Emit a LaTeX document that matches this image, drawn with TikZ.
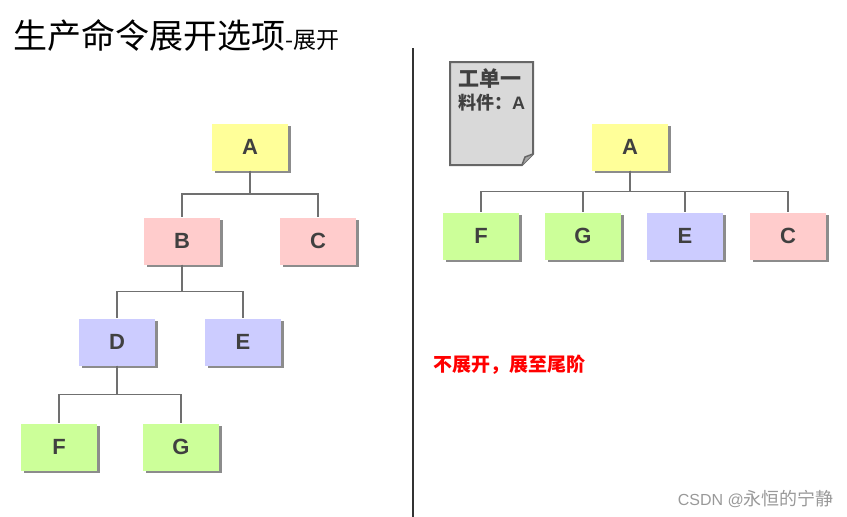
\documentclass[tikz,border=0pt]{standalone}
\usepackage{fontspec}
\setmainfont{Liberation Sans}
\newfontfamily\cjk{Noto Sans CJK SC}
\usetikzlibrary{shadows}
\usetikzlibrary{calc}
\definecolor{partyellow}{HTML}{FFFF99}
\definecolor{partpink}{HTML}{FFCCCC}
\definecolor{partblue}{HTML}{CCCCFF}
\definecolor{partgreen}{HTML}{CCFF99}
\definecolor{parttext}{HTML}{404040}
\definecolor{linkgray}{HTML}{707070}
\tikzset{
	part/.style={minimum width=76pt, minimum height=47pt, inner sep=0pt,
		font=\bfseries\fontsize{22}{22}\selectfont, text=parttext,
		drop shadow={shadow xshift=2.5pt, shadow yshift=-2.5pt, fill=black!45, opacity=1}},
	link/.style={draw=linkgray, line width=1.5pt},
	notetext/.style={anchor=west, inner sep=0pt, text=parttext, font=\cjk\bfseries}
}

\begin{document}
\begin{tikzpicture}[x=1pt, y=-1pt]
	\useasboundingbox (0,0) rectangle (847,517);
	\node[anchor=base west, inner sep=0pt, font=\cjk\fontsize{34}{34}\selectfont] (title) at (13,48) {生产命令展开选项\fontsize{23}{23}\selectfont-展开};
	\draw[line width=1.5pt, black!80] (413,48) -- (413,517);

	\node[part, fill=partyellow] (lA) at (250,147) {A};
	\node[part, fill=partpink] (lB) at (182,241) {B};
	\node[part, fill=partpink] (lC) at (318,241) {C};
	\node[part, fill=partblue] (lD) at (117,342) {D};
	\node[part, fill=partblue] (lE) at (243,342) {E};
	\node[part, fill=partgreen] (lF) at (59,447) {F};
	\node[part, fill=partgreen] (lG) at (181,447) {G};
	\draw[link] (lA.south) |- ($(lA.south)!.5!(lB.north)$) -| (lB.north);
	\draw[link] (lA.south) |- ($(lA.south)!.5!(lC.north)$) -| (lC.north);
	\draw[link] (lB.south) |- ($(lB.south)!.5!(lD.north)$) -| (lD.north);
	\draw[link] (lB.south) |- ($(lB.south)!.5!(lE.north)$) -| (lE.north);
	\draw[link] (lD.south) |- ($(lD.south)!.5!(lF.north)$) -| (lF.north);
	\draw[link] (lD.south) |- ($(lD.south)!.5!(lG.north)$) -| (lG.north);

	\draw[line width=2pt, draw=black!60, fill=black!15] (450,62) -- (533,62) -- (533,154) -- (522,165) -- (450,165) -- cycle;
	\draw[line width=1.5pt, draw=black!60, fill=black!35] (522,165) -- (525,157) -- (533,154);
	\node[notetext, font=\cjk\bfseries\fontsize{21}{21}\selectfont] (order) at (458,79) {工单一};
	\node[notetext, font=\cjk\bfseries\fontsize{18}{18}\selectfont] (item) at (458,103) {料件：{\rmfamily A}};

	\node[part, fill=partyellow] (rA) at (630,147) {A};
	\node[part, fill=partgreen] (rF) at (481,236) {F};
	\node[part, fill=partgreen] (rG) at (583,236) {G};
	\node[part, fill=partblue] (rE) at (685,236) {E};
	\node[part, fill=partpink] (rC) at (788,236) {C};
	\foreach \n in {rF, rG, rE, rC}
		\draw[link] (rA.south) |- ($(rA.south)!.5!(\n.north)$) -| (\n.north);

	\node[anchor=west, inner sep=0pt, text=red, font=\cjk\bfseries\fontsize{19}{19}\selectfont] (remark) at (433,365) {不展开，展至尾阶};
	\node[anchor=east, inner sep=0pt, text=black!40, font=\cjk\fontsize{18}{18}\selectfont] (mark) at (834,499) {{\rmfamily\fontsize{16}{16}\selectfont CSDN @}永恒的宁静};
\end{tikzpicture}
\end{document}
